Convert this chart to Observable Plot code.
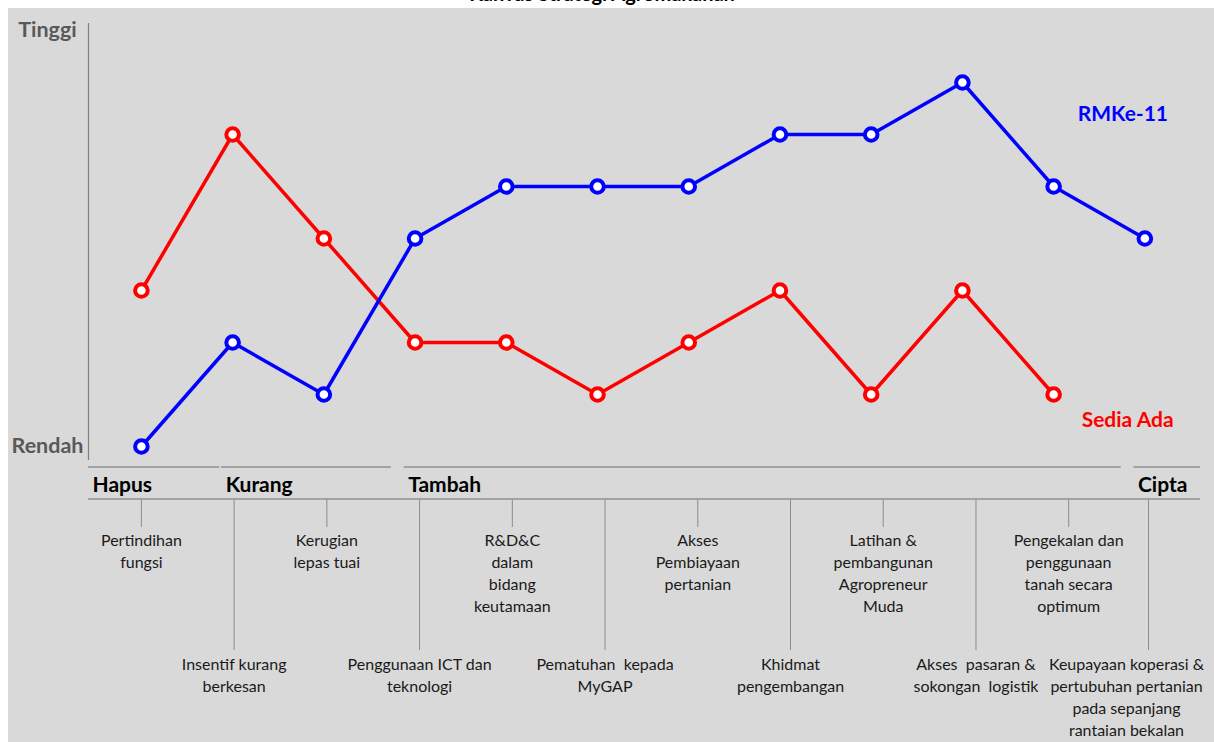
<!DOCTYPE html>
<html>
<head>
<meta charset="utf-8">
<script src="https://cdn.jsdelivr.net/npm/d3@7"></script>
<script src="https://cdn.jsdelivr.net/npm/@observablehq/plot@0.6"></script>
<style>
  html, body { margin: 0; padding: 0; background: #ffffff; }
  body { width: 1214px; height: 742px; position: relative; overflow: hidden; font-family: Lato, "Open Sans", sans-serif; }
  #title { position: absolute; top: 0; left: 0; width: 1214px; height: 8px; overflow: hidden; }
  #title div { position: absolute; top: -17px; left: 0; width: 1204px; text-align: center; font: bold 20px/20px Lato, sans-serif; color: #000; }
  #chart { position: absolute; top: 8px; left: 8px; width: 1206px; height: 734px; background: #d9d9d9; }
  #chart svg { background: transparent; }
</style>
</head>
<body>
<div id="title"><div>Kanvas Strategi Agromakanan</div></div>
<div id="chart"></div>
<script>
// ---- data ----
const categories = [
  "Pertindihan\nfungsi",
  "Insentif kurang\nberkesan",
  "Kerugian\nlepas tuai",
  "Penggunaan ICT dan\nteknologi",
  "R&D&C\ndalam\nbidang\nkeutamaan",
  "Pematuhan  kepada\nMyGAP",
  "Akses\nPembiayaan\npertanian",
  "Khidmat\npengembangan",
  "Latihan &\npembangunan\nAgropreneur\nMuda",
  "Akses  pasaran &\nsokongan  logistik",
  "Pengekalan dan\npenggunaan\ntanah secara\noptimum",
  "Keupayaan koperasi &\npertubuhan pertanian\npada sepanjang\nrantaian bekalan"
];
const seriesNames = ["Sedia Ada", "RMKe-11"];
const sediaAda = [3, 6, 4, 2, 2, 1, 2, 3, 1, 3, 1, null];
const rmke11   = [0, 2, 1, 4, 5, 5, 5, 6, 6, 7, 5, 4];
const groupNames = ["Hapus", "Kurang", "Tambah", "Cipta"];
const groupFirst = [0, 1, 3, 11];
const groupLast  = [0, 2, 10, 11];
const levelLabels = ["Rendah", "Tinggi"];
const levelValues = [0, 8];

// ---- tables ----
const rows = [];
categories.forEach((c, i) => {
  if (sediaAda[i] != null) rows.push({i, series: "Sedia Ada", value: sediaAda[i]});
});
categories.forEach((c, i) => {
  if (rmke11[i] != null) rows.push({i, series: "RMKe-11", value: rmke11[i]});
});
const xDomain = [-0.58, 11.61];
// annotation grid below the chart is spaced slightly wider than the data columns
const annotSpacing = 1.0165;
const cats = categories.map((label, i) => ({i, label, pos: Math.min(i * annotSpacing, 11.04)}));
const groups = groupNames.map((name, k) => ({
  name,
  x1: k === 0 ? xDomain[0] : groupFirst[k] - 0.12,
  x2: Math.min(groupLast[k] + (k === 0 ? 0.86 : 0.74), xDomain[1])
}));
const levels = levelValues.map((v, k) => ({v, label: levelLabels[k]}));
const lastOf = (arr) => { let j = arr.length - 1; while (arr[j] == null) j--; return {i: j, value: arr[j]}; };
const lastRed = lastOf(sediaAda), lastBlue = lastOf(rmke11);

const font = "Lato, 'Open Sans', sans-serif";
const gray = "#8c8c8c";
const labelSize = 16;

const plot = Plot.plot({
  width: 1206,
  height: 734,
  marginLeft: 80,
  marginRight: 14,
  marginTop: 22,
  marginBottom: 296,
  style: {fontFamily: font, background: "transparent", overflow: "visible"},
  x: {type: "linear", domain: xDomain, axis: null},
  y: {domain: [0, 8], axis: null},
  color: {domain: seriesNames, range: ["#ff0000", "#0000ff"]},
  marks: [
    // vertical axis line
    Plot.ruleX([xDomain[0]], {stroke: "#808080", strokeWidth: 1.2, insetTop: -7, insetBottom: -14}),
    // group bracket lines
    Plot.rect(groups, {x1: "x1", x2: "x2", fill: "#a3a3a3", insetTop: 436, insetBottom: -22}),
    // group labels
    Plot.text(groups, {x: "x1", text: "name", frameAnchor: "bottom", dy: 45, dx: 4, textAnchor: "start",
      fontWeight: "bold", fontSize: 21, fill: "#000"}),
    // second horizontal line
    Plot.rect([0], {x1: () => xDomain[0], x2: () => xDomain[1], fill: "#a3a3a3", insetTop: 468, insetBottom: -54}),
    // ticks
    Plot.ruleX(cats.filter(d => d.i % 2 === 0), {x: "pos", stroke: gray, strokeWidth: 1, insetTop: 469, insetBottom: -81}),
    Plot.ruleX(cats.filter(d => d.i % 2 === 1), {x: "pos", stroke: gray, strokeWidth: 1, insetTop: 469, insetBottom: -204}),
    // category labels
    Plot.text(cats.filter(d => d.i % 2 === 0), {x: "pos", text: "label", frameAnchor: "bottom", dy: 84,
      lineAnchor: "top", lineHeight: 1.37, fontSize: labelSize, fill: "#1a1a1a"}),
    Plot.text(cats.filter(d => d.i % 2 === 1 && d.i < 11), {x: "pos", text: "label", frameAnchor: "bottom", dy: 208,
      lineAnchor: "top", lineHeight: 1.37, fontSize: labelSize, fill: "#1a1a1a"}),
    Plot.text(cats.filter(d => d.i === 11), {x: "pos", text: "label", frameAnchor: "bottom", dy: 208, dx: -22,
      lineAnchor: "top", lineHeight: 1.37, fontSize: labelSize, fill: "#1a1a1a"}),
    // level labels
    Plot.text(levels, {y: "v", text: "label", frameAnchor: "left", dx: -41, textAnchor: "middle",
      fontWeight: "bold", fontSize: 21.5, fill: "#595959"}),
    // series lines and markers
    Plot.line(rows, {x: "i", y: "value", z: "series", stroke: "series", strokeWidth: 3.5}),
    Plot.dot(rows, {x: "i", y: "value", stroke: "series", fill: "#ffffff", r: 6.3, strokeWidth: 4}),
    // series labels
    Plot.text([lastBlue], {x: "i", y: "value", text: () => "RMKe-11", dx: -22, dy: -124,
      fontWeight: "bold", fontSize: 21, fill: "#0000ff"}),
    Plot.text([lastRed], {x: "i", y: "value", text: () => "Sedia Ada", dx: 74, dy: 26,
      fontWeight: "bold", fontSize: 21, fill: "#ff0000"})
  ]
});
document.getElementById("chart").appendChild(plot);
</script>
</body>
</html>
